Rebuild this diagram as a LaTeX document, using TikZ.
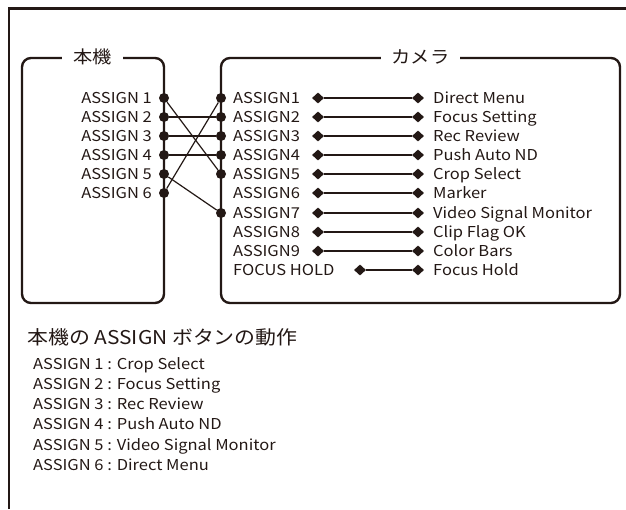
\documentclass[tikz,border=0pt]{standalone}
\usepackage{fontspec}
\setmainfont[FakeStretch=1.1]{Noto Sans CJK JP}
\usepackage{tikz}
\usetikzlibrary{shapes.geometric,positioning}
\definecolor{ink}{HTML}{231815}
\begin{document}
\begin{tikzpicture}[x=1pt,y=-1pt,every node/.style={font=\fontsize{15}{17}\selectfont,text=ink},frame/.style={draw=ink,line width=2.8pt},unit/.style={draw=ink,line width=2.4pt,rounded corners=9pt},ttl/.style={fill=white,inner xsep=11pt,font=\fontsize{17.5}{19}\selectfont},pin/.style={circle,fill=ink,inner sep=0pt,minimum size=10pt},dia/.style={diamond,fill=ink,inner sep=0pt,minimum width=12pt,minimum height=11pt},wire/.style={draw=ink,line width=1.2pt},lnk/.style={draw=ink,line width=1.5pt},lbl/.style={inner sep=0pt}]
\useasboundingbox (0,0) rectangle (626,509);
\draw[frame] (9,509) -- (9,8.5) -- (626,8.5);
\draw[unit] (22,58) rectangle (164,303);
\draw[unit] (221,58) rectangle (620,303);
\node[ttl] (hontai) at (92.5,57) {本機};
\node[ttl] (camera) at (420.5,57) {カメラ};
\foreach \i/\y in {1/98,2/117,3/136,4/155,5/174,6/193}{
  \node[lbl,anchor=base east] (l\i) at (152,\y+5.5) {ASSIGN \i};
}
\foreach \i/\y/\f in {1/98/Direct Menu,2/117/Focus Setting,3/136/Rec Review,4/155/Push Auto ND,5/174/Crop Select,6/193/Marker,7/213/Video Signal Monitor,8/232/Clip Flag OK,9/251/Color Bars}{
  \node[lbl,anchor=base west] (c\i) at (233,\y+5.5) {ASSIGN\i};
  \node[dia] (da\i) at (318,\y) {};
  \node[dia] (db\i) at (418,\y) {};
  \node[lbl,anchor=base west] (f\i) at (433,\y+5.5) {\f};
  \draw[lnk] (da\i) -- (db\i);
}
\node[lbl,anchor=base west] (c10) at (233,275.5) {FOCUS HOLD};
\node[dia] (da10) at (360,270) {};
\node[dia] (db10) at (418,270) {};
\node[lbl,anchor=base west] (f10) at (433,275.5) {Focus Hold};
\draw[lnk] (da10) -- (db10);
\foreach \i/\y in {1/98,2/117,3/136,4/155,5/174,6/193}{
  \node[pin] (p\i) at (164,\y) {};
}
\foreach \i/\y in {1/98,2/117,3/136,4/155,5/174,7/213}{
  \node[pin] (q\i) at (221,\y) {};
}
\draw[wire] (p1) -- (q5);
\draw[wire] (p2) -- (q2);
\draw[wire] (p3) -- (q3);
\draw[wire] (p4) -- (q4);
\draw[wire] (p5) -- (q7);
\draw[wire] (p6) -- (q1);
\node[lbl,anchor=base west,font=\fontsize{19}{21}\selectfont] (head) at (27,344) {本機の ASSIGN ボタンの動作};
\foreach \t [count=\k] in {ASSIGN 1 : Crop Select,ASSIGN 2 : Focus Setting,ASSIGN 3 : Rec Review,ASSIGN 4 : Push Auto ND,ASSIGN 5 : Video Signal Monitor,ASSIGN 6 : Direct Menu}{
  \node[lbl,anchor=base west] (m\k) at (33,348.7+20.3*\k) {\t};
}
\end{tikzpicture}
\end{document}
